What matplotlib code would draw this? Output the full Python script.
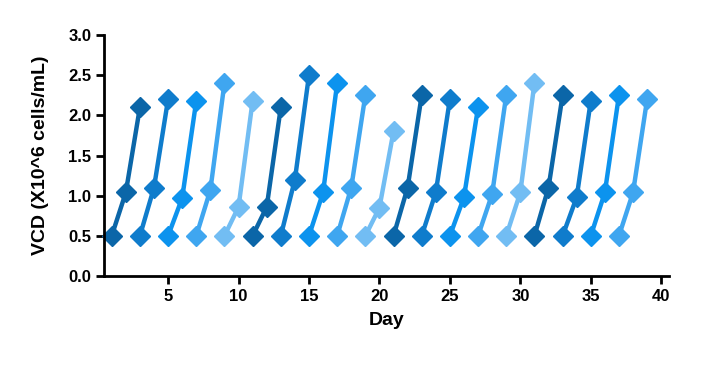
import numpy as np
import matplotlib.pyplot as plt

plt.rcParams['font.family'] = ['Liberation Sans', 'DejaVu Sans']
plt.rcParams['font.weight'] = 'bold'

# each run: day 0, day 1, day 2 after seeding
start_days = [1, 3, 5, 7, 9, 11, 13, 15, 17, 19, 21, 23, 25, 27, 29, 31, 33, 35, 37]
vcd_seed = [0.5] * 19
vcd_day1 = [1.04, 1.1, 0.97, 1.07, 0.86, 0.86, 1.2, 1.04, 1.1, 0.85,
            1.1, 1.04, 0.98, 1.02, 1.04, 1.1, 0.98, 1.04, 1.04]
vcd_day2 = [2.1, 2.2, 2.18, 2.4, 2.18, 2.1, 2.5, 2.4, 2.25, 1.8,
            2.25, 2.2, 2.1, 2.25, 2.4, 2.25, 2.18, 2.25, 2.2]

colors = ['#0b66a8', '#0f7ccc', '#0c93ee', '#3fa6f0', '#72bdf3']

fig = plt.figure(figsize=(7.17, 3.73), dpi=100)
ax = fig.add_axes([0.145, 0.26, 0.788, 0.646])

for i, d in enumerate(start_days):
    x = [d, d + 1, d + 2]
    y = [vcd_seed[i], vcd_day1[i], vcd_day2[i]]
    ax.plot(x, y, color=colors[i % 5], lw=3.2, marker='D', ms=10, clip_on=False)

ax.set_xlim(0.45, 40.55)
ax.set_ylim(0, 3.0)
ax.set_xticks([5, 10, 15, 20, 25, 30, 35, 40])
ax.set_yticks(np.arange(0, 3.01, 0.5))
ax.yaxis.set_major_formatter(plt.FormatStrFormatter('%.1f'))

for s in ['top', 'right']:
    ax.spines[s].set_visible(False)
for s in ['left', 'bottom']:
    ax.spines[s].set_linewidth(2)
ax.tick_params(width=2, length=6, labelsize=12, pad=3)

ax.set_xlabel('Day', fontsize=14, fontweight='bold', labelpad=6)
ax.set_ylabel('VCD (X10^6 cells/mL)', fontsize=14, fontweight='bold', labelpad=14)

plt.savefig('out.png', dpi=100)
